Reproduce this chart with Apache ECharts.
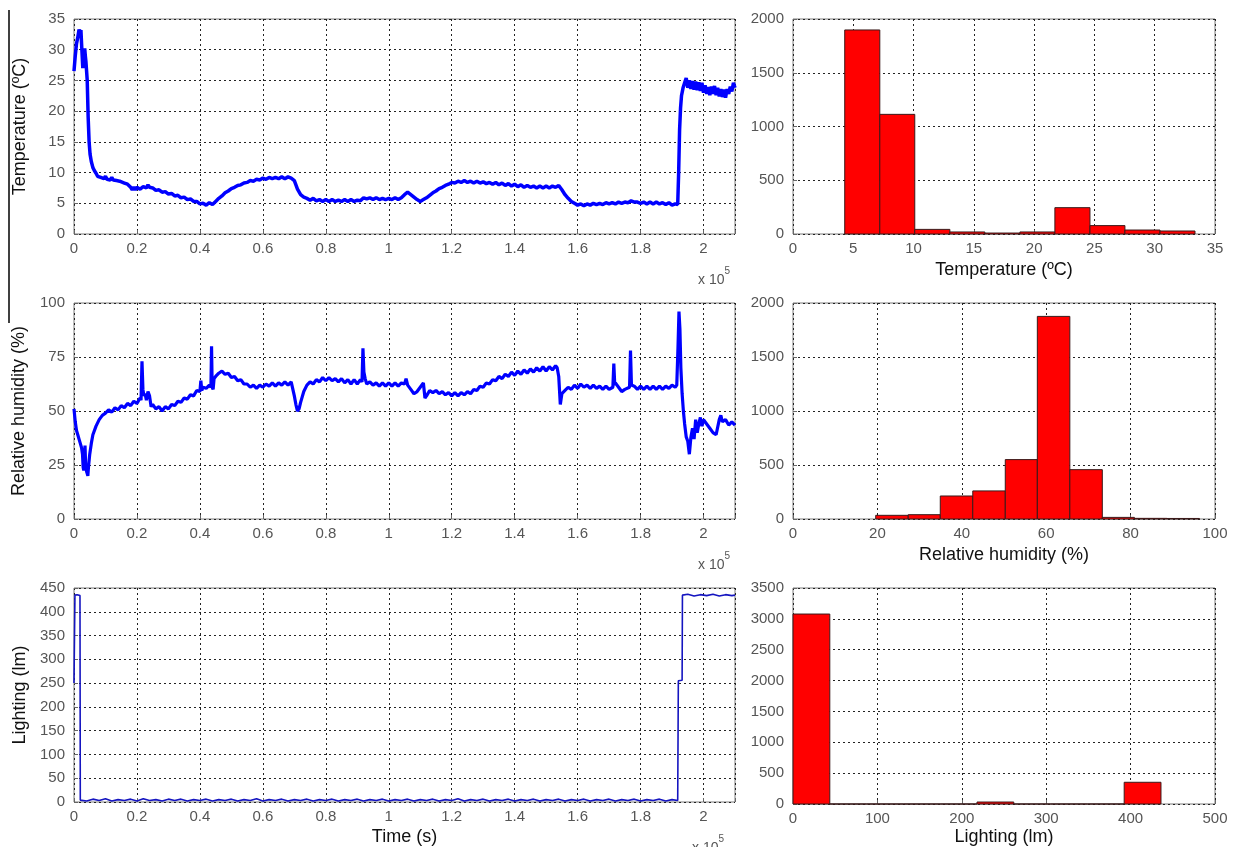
<!DOCTYPE html>
<html>
<head>
<meta charset="utf-8">
<script src="https://cdn.jsdelivr.net/npm/echarts@6/dist/echarts.min.js"></script>
<style>
html,body{margin:0;padding:0;background:#fff;}
#chart{width:1234px;height:847px;}
</style>
</head>
<body>
<div id="chart"></div>
<script>
// ---------- DATA (time in units of 1e5 s) ----------
var temperatureSeries = [
[0,26.5],[0.004,29],[0.008,31],[0.012,32],[0.016,33.3],[0.019,32.6],[0.022,33.2],[0.025,30],[0.028,27],[0.031,29],[0.034,30.2],
[0.036,29],[0.038,28],[0.040,26.5],[0.042,25],[0.045,19],[0.048,15],[0.051,13],[0.055,11.8],[0.06,10.8],[0.065,10.3],[0.07,9.9],
[0.075,9.4],[0.08,9.7],[0.085,9.2],[0.09,9.5],[0.095,9.0],[0.10,9.4],[0.105,8.9],[0.11,9.2],[0.115,8.8],[0.12,9.2],[0.125,8.8],
[0.13,9.1],[0.135,8.7],[0.14,9.0],[0.145,8.6],[0.15,8.8],[0.16,8.3],[0.17,8.1],[0.18,7.6],[0.185,7.2],[0.19,7.6],[0.195,7.2],
[0.20,7.6],[0.21,7.3],[0.22,7.7],[0.23,7.5],[0.235,8.0],[0.24,7.6],[0.25,7.5],[0.26,7.1],[0.27,7.2],[0.28,6.8],[0.29,6.9],
[0.30,6.5],[0.31,6.6],[0.32,6.2],[0.33,6.3],[0.34,5.9],[0.35,6.0],[0.36,5.6],[0.37,5.7],[0.38,5.3],[0.39,5.3],[0.40,4.9],
[0.41,5.0],[0.42,4.7],[0.43,5.1],[0.44,4.8],[0.45,5.3],[0.46,5.8],[0.47,6.2],[0.48,6.7],[0.49,7.0],[0.50,7.4],[0.51,7.6],
[0.52,7.9],[0.53,8.0],[0.54,8.3],[0.55,8.4],[0.56,8.7],[0.57,8.6],[0.58,8.9],[0.59,8.8],[0.60,9.1],[0.61,8.9],[0.62,9.2],
[0.63,9.0],[0.64,9.2],[0.65,9.0],[0.66,9.3],[0.67,9.0],[0.68,9.3],[0.69,9.1],[0.695,9.4],[0.70,8.7],[0.71,7.3],[0.72,6.4],
[0.73,6.0],[0.74,5.8],[0.75,5.5],[0.76,5.8],[0.77,5.4],[0.78,5.6],[0.79,5.3],[0.80,5.6],[0.81,5.3],[0.82,5.6],[0.83,5.3],
[0.84,5.5],[0.85,5.3],[0.86,5.6],[0.87,5.3],[0.88,5.6],[0.89,5.3],[0.90,5.5],[0.91,5.4],[0.92,5.9],[0.93,5.7],[0.94,5.9],
[0.95,5.6],[0.96,5.9],[0.97,5.6],[0.98,5.8],[0.99,5.6],[1.00,5.8],[1.01,5.6],[1.02,5.9],[1.03,5.6],[1.04,5.9],[1.05,6.4],
[1.06,6.8],[1.07,6.4],[1.08,6.0],[1.09,5.6],[1.10,5.3],[1.11,5.6],[1.12,5.9],[1.13,6.3],[1.14,6.7],[1.15,7.0],[1.16,7.4],
[1.17,7.6],[1.18,7.9],[1.19,8.1],[1.20,8.4],[1.21,8.3],[1.22,8.6],[1.23,8.4],[1.24,8.7],[1.25,8.4],[1.26,8.6],[1.27,8.3],
[1.28,8.6],[1.29,8.3],[1.30,8.5],[1.31,8.2],[1.32,8.4],[1.33,8.1],[1.34,8.4],[1.35,8.0],[1.36,8.3],[1.37,7.9],[1.38,8.2],
[1.39,7.8],[1.40,8.1],[1.41,7.7],[1.42,8.0],[1.43,7.6],[1.44,7.9],[1.45,7.6],[1.46,7.8],[1.47,7.5],[1.48,7.8],[1.49,7.5],
[1.50,7.8],[1.51,7.5],[1.52,7.8],[1.53,7.6],[1.54,7.9],[1.55,7.2],[1.56,6.4],[1.57,5.8],[1.58,5.3],[1.59,5.0],[1.60,4.7],
[1.61,4.9],[1.62,4.6],[1.63,4.9],[1.64,4.7],[1.65,5.0],[1.66,4.8],[1.67,5.0],[1.68,4.8],[1.69,5.1],[1.70,4.9],[1.71,5.1],
[1.72,4.9],[1.73,5.2],[1.74,5.0],[1.75,5.2],[1.76,5.1],[1.77,5.4],[1.78,5.2],[1.79,5.2],[1.80,5.0],[1.81,5.2],[1.82,4.9],
[1.83,5.2],[1.84,4.9],[1.85,5.2],[1.86,4.9],[1.87,5.1],[1.88,4.8],[1.89,5.1],[1.90,4.7],[1.91,4.9],[1.918,4.8],[1.921,10],
[1.924,17],[1.927,20.5],[1.93,22.5],[1.935,23.8],[1.94,24.6],[1.945,25.4],[1.95,23.8],[1.955,25.0],[1.96,23.6],[1.965,24.9],
[1.97,23.5],[1.975,24.8],[1.98,23.4],[1.985,24.7],[1.99,23.3],[1.995,24.6],[2.00,23.0],[2.005,24.2],[2.01,22.8],[2.015,23.9],
[2.02,22.6],[2.025,24.0],[2.03,22.8],[2.035,24.1],[2.04,22.6],[2.045,23.8],[2.05,22.4],[2.055,23.6],[2.06,22.3],[2.065,23.5],
[2.07,22.2],[2.075,23.6],[2.08,22.8],[2.085,24.0],[2.09,23.2],[2.095,24.6],[2.10,23.8]
];

var humiditySeries = [
[0,51],[0.004,45],[0.008,41],[0.012,39],[0.016,37],[0.020,35],[0.024,33],[0.027,30],[0.029,24],[0.031,22.5],[0.033,26],
[0.035,34],[0.037,25],[0.040,22],[0.042,21],[0.044,20],[0.046,24],[0.05,30],[0.055,35],[0.06,39],[0.07,43],[0.08,46],
[0.09,48],[0.10,49],[0.11,50.5],[0.12,49.5],[0.13,51.5],[0.14,50.5],[0.15,52.5],[0.16,51.5],[0.17,53.5],[0.18,52.5],
[0.19,54.5],[0.20,53.5],[0.21,56],[0.213,55],[0.216,73],[0.219,60],[0.222,57],[0.226,58],[0.23,55],[0.235,59],[0.24,57],
[0.245,52],[0.25,53],[0.26,51],[0.27,52],[0.28,50],[0.29,52],[0.30,51],[0.31,53],[0.32,52.5],[0.33,54.5],[0.34,54],
[0.35,56],[0.36,55.5],[0.37,57.5],[0.38,57],[0.39,59.5],[0.40,59],[0.403,64],[0.406,59.5],[0.41,61],[0.42,60.5],[0.43,62],
[0.435,61],[0.437,80],[0.439,61],[0.442,60],[0.445,65],[0.45,66],[0.46,67.5],[0.47,68.5],[0.48,67],[0.49,67.5],[0.50,65.5],
[0.51,66],[0.52,64],[0.53,64.5],[0.54,62.5],[0.55,62.5],[0.56,61],[0.57,62],[0.58,60.5],[0.59,62],[0.60,61],[0.61,62.5],
[0.62,61.5],[0.63,63],[0.64,61.5],[0.65,63],[0.66,62],[0.67,63.5],[0.68,62],[0.69,63.5],[0.695,63],[0.70,57],[0.705,53],
[0.71,50],[0.715,51],[0.72,54],[0.73,59],[0.74,62],[0.75,63.5],[0.76,62.5],[0.77,64.5],[0.78,63.5],[0.79,65.5],[0.80,64],
[0.81,65.5],[0.82,64],[0.83,65],[0.84,63.5],[0.85,65],[0.86,63],[0.87,64.5],[0.88,62.5],[0.89,64.5],[0.90,62.5],[0.91,64.5],
[0.915,63.5],[0.918,79],[0.921,68],[0.925,65],[0.93,62.5],[0.94,63.5],[0.95,62],[0.96,63],[0.97,61.5],[0.98,63],[0.99,61.5],
[1.00,63],[1.01,61.5],[1.02,63],[1.03,61.5],[1.04,63],[1.05,62.5],[1.055,65],[1.06,62],[1.07,60],[1.08,58],[1.09,59],
[1.10,61],[1.11,63],[1.115,56],[1.12,57],[1.13,59.5],[1.14,58.5],[1.15,59.5],[1.16,58],[1.17,59],[1.18,57.5],[1.19,58.5],
[1.20,57],[1.21,58.5],[1.22,57],[1.23,58.5],[1.24,57.5],[1.25,59],[1.26,58],[1.27,60],[1.28,59.5],[1.29,61.5],[1.30,61],
[1.31,63],[1.32,62.5],[1.33,64.5],[1.34,64],[1.35,66],[1.36,65],[1.37,67],[1.38,66],[1.39,68],[1.40,66.5],[1.41,68.5],
[1.42,67],[1.43,69],[1.44,67.5],[1.45,69.5],[1.46,68],[1.47,70],[1.48,68.5],[1.49,70.5],[1.50,68.5],[1.51,70.5],[1.52,69],
[1.53,71],[1.535,70],[1.54,66],[1.545,53],[1.55,58],[1.56,59.5],[1.57,61],[1.58,60],[1.59,62],[1.60,60.5],[1.61,62.5],
[1.62,61],[1.63,62],[1.64,60.5],[1.65,62],[1.66,60.5],[1.67,61.5],[1.68,60],[1.69,61.5],[1.70,60],[1.712,61],[1.715,72],
[1.718,62],[1.72,63],[1.73,61],[1.74,59],[1.75,60],[1.765,61],[1.768,78],[1.771,62],[1.78,61.5],[1.79,60],[1.80,61.5],
[1.81,60],[1.82,61.5],[1.83,60],[1.84,61.5],[1.85,60],[1.86,61.5],[1.87,60],[1.88,61.5],[1.89,60.5],[1.90,62],[1.91,61],
[1.915,62],[1.919,80],[1.922,96],[1.925,88],[1.928,70],[1.932,58],[1.936,50],[1.94,44],[1.945,38],[1.95,36],[1.955,30],
[1.96,38],[1.965,42],[1.97,37],[1.975,46],[1.98,40],[1.985,44],[1.99,47],[1.995,43],[2.00,46],[2.01,44],[2.02,42],
[2.03,40],[2.04,39],[2.05,46],[2.055,48],[2.06,45],[2.07,46],[2.08,43.5],[2.09,45],[2.10,43.5]
];

var lightingSeries = [
[0,250],[0.002,252],[0.003,435],[0.010,436],[0.019,434],[0.020,4],[0.04,2],[0.06,6],[0.08,3],[0.10,7],[0.12,2],[0.14,5],
[0.16,3],[0.18,6],[0.20,2],[0.22,7],[0.24,3],[0.26,5],[0.28,2],[0.30,6],[0.32,3],[0.34,6],[0.36,2],[0.38,5],[0.40,3],
[0.42,6],[0.44,2],[0.46,5],[0.48,3],[0.50,6],[0.52,2],[0.54,5],[0.56,3],[0.58,7],[0.60,2],[0.62,5],[0.64,3],[0.66,6],
[0.68,2],[0.70,5],[0.72,3],[0.74,6],[0.76,2],[0.78,5],[0.80,3],[0.82,6],[0.84,2],[0.86,5],[0.88,3],[0.90,6],[0.92,2],
[0.94,5],[0.96,3],[0.98,6],[1.00,2],[1.02,5],[1.04,3],[1.06,6],[1.08,2],[1.10,5],[1.12,3],[1.14,6],[1.16,2],[1.18,5],
[1.20,3],[1.22,7],[1.24,2],[1.26,5],[1.28,3],[1.30,6],[1.32,2],[1.34,5],[1.36,3],[1.38,6],[1.40,2],[1.42,5],[1.44,3],
[1.46,6],[1.48,2],[1.50,5],[1.52,3],[1.54,6],[1.56,2],[1.58,5],[1.60,3],[1.62,6],[1.64,2],[1.66,5],[1.68,3],[1.70,6],
[1.72,2],[1.74,5],[1.76,3],[1.78,6],[1.80,2],[1.82,5],[1.84,3],[1.86,6],[1.88,2],[1.90,5],[1.918,3],[1.920,255],
[1.932,256],[1.933,435],[1.95,437],[1.97,433],[1.99,436],[2.01,434],[2.03,437],[2.05,433],[2.07,436],[2.09,434],[2.10,435]
];

// histograms: bin edges and counts
var tempEdges  = [4.29, 7.20, 10.10, 13.01, 15.91, 18.82, 21.72, 24.63, 27.53, 30.44, 33.34];
var tempCounts = [1898, 1113, 43, 19, 9, 19, 245, 78, 37, 28];

var humEdges  = [19.6, 27.3, 34.9, 42.6, 50.3, 57.9, 65.6, 73.3, 80.9, 88.6, 96.3];
var humCounts = [34, 40, 213, 260, 550, 1876, 457, 15, 6, 5];

var lightEdges  = [0, 43.6, 87.2, 130.8, 174.4, 218.0, 261.6, 305.2, 348.8, 392.4, 436.0];
var lightCounts = [3078, 0, 0, 0, 0, 32, 0, 0, 0, 352];

// time axis tick labels
var timeTicks = ['0','0.2','0.4','0.6','0.8','1','1.2','1.4','1.6','1.8','2'];

// ---------- CHART ----------
function histData(edges, counts){
  var out = [];
  for (var i = 0; i < counts.length; i++) out.push([edges[i], edges[i+1], counts[i]]);
  return out;
}
function histRender(params, api){
  var p0 = api.coord([api.value(0), 0]);
  var p1 = api.coord([api.value(1), api.value(2)]);
  return {type:'rect', shape:{x:p0[0], y:p1[1], width:p1[0]-p0[0], height:p0[1]-p1[1]},
          style:{fill:'#ff0000', stroke:'#3a1a1a', lineWidth:1}};
}

var FONT = 'Liberation Sans, Arial, sans-serif';
var labelStyle = {color:'#555', fontSize:15, fontFamily:FONT};
var nameStyle = {color:'#111', fontSize:18, fontFamily:FONT};
var split = {show:true, lineStyle:{color:'#222', type:[2,3], width:1}};

var grids = [
  {left:74, top:19, width:661, height:215},
  {left:793, top:19, width:422, height:215},
  {left:74, top:303, width:661, height:216},
  {left:793, top:303, width:422, height:216},
  {left:74, top:588, width:661, height:215},
  {left:793, top:588, width:422, height:216}
].map(function(g){ g.show = true; g.borderColor = '#7a7a7a'; g.borderWidth = 1; g.backgroundColor='#fff'; return g; });

function timeAxis(idx, name){
  return {type:'value', gridIndex:idx, min:0, max:2.1, interval:0.2,
    axisLine:{show:false}, axisTick:{show:true, inside:true, length:4, lineStyle:{color:'#666'}},
    splitLine:split,
    axisLabel:Object.assign({margin:7, formatter:function(v){
      var i = Math.round(v/0.2); if (Math.abs(v - i*0.2) > 1e-6 || i >= timeTicks.length) return ''; return timeTicks[i];
    }}, labelStyle),
    name:name||'', nameLocation:'middle', nameGap:26, nameTextStyle:nameStyle};
}
function valAxis(idx, min, max, interval, name, gap, pos){
  return {type:'value', gridIndex:idx, min:min, max:max, interval:interval,
    axisLine:{show:false}, axisTick:{show:true, inside:true, length:4, lineStyle:{color:'#666'}},
    splitLine:split,
    axisLabel:Object.assign({margin:pos==='y'?9:7, formatter:function(v){ return String(v); }}, labelStyle),
    name:name||'', nameLocation:'middle', nameGap:gap||30, nameTextStyle:nameStyle};
}

var sup = {a:{fontSize:14, fontFamily:FONT, fill:'#555', padding:[7,0,0,0]}, b:{fontSize:10, fontFamily:FONT, fill:'#555', verticalAlign:'top'}};

var option = {
  animation:false,
  backgroundColor:'#fff',
  grid:grids,
  xAxis:[
    timeAxis(0),
    valAxis(1, 0, 35, 5, 'Temperature (ºC)', 27, 'x'),
    timeAxis(2),
    valAxis(3, 0, 100, 20, 'Relative humidity (%)', 27, 'x'),
    timeAxis(4, 'Time (s)'),
    valAxis(5, 0, 500, 100, 'Lighting (lm)', 24, 'x')
  ],
  yAxis:[
    valAxis(0, 0, 35, 5, 'Temperature (ºC)', 45, 'y'),
    valAxis(1, 0, 2000, 500, '', 30, 'y'),
    valAxis(2, 0, 100, 25, 'Relative humidity (%)', 46, 'y'),
    valAxis(3, 0, 2000, 500, '', 30, 'y'),
    valAxis(4, 0, 450, 50, 'Lighting (lm)', 45, 'y'),
    valAxis(5, 0, 3500, 500, '', 30, 'y')
  ],
  series:[
    {type:'line', xAxisIndex:0, yAxisIndex:0, data:temperatureSeries, showSymbol:false, symbol:'none',
      lineStyle:{color:'#0000ff', width:3.5}, clip:true},
    {type:'custom', xAxisIndex:1, yAxisIndex:1, data:histData(tempEdges, tempCounts), renderItem:histRender,
      encode:{x:[0,1], y:2}},
    {type:'line', xAxisIndex:2, yAxisIndex:2, data:humiditySeries, showSymbol:false, symbol:'none',
      lineStyle:{color:'#0000ff', width:3.2}, clip:true},
    {type:'custom', xAxisIndex:3, yAxisIndex:3, data:histData(humEdges, humCounts), renderItem:histRender,
      encode:{x:[0,1], y:2}},
    {type:'line', xAxisIndex:4, yAxisIndex:4, data:lightingSeries, showSymbol:false, symbol:'none',
      lineStyle:{color:'#1515c0', width:1.6}, clip:true},
    {type:'custom', xAxisIndex:5, yAxisIndex:5, data:histData(lightEdges, lightCounts), renderItem:histRender,
      encode:{x:[0,1], y:2}}
  ],
  graphic:[
    {type:'line', shape:{x1:9, y1:10, x2:9, y2:323}, style:{stroke:'#000', lineWidth:1.5}},
    {type:'text', left:698, top:266, style:{text:'{a|x 10}{b|5}', rich:sup}},
    {type:'text', left:698, top:551, style:{text:'{a|x 10}{b|5}', rich:sup}},
    {type:'text', left:692, top:834, style:{text:'{a|x 10}{b|5}', rich:sup}}
  ]
};

var chart = echarts.init(document.getElementById('chart'), null, {renderer:'canvas'});
chart.setOption(option);
</script>
</body>
</html>
